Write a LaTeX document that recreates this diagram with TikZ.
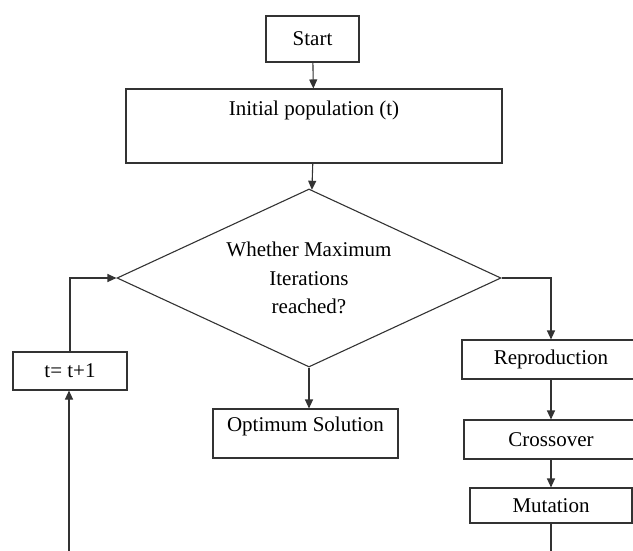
\documentclass[tikz,border=0pt]{standalone}
\usepackage{fontspec}
\setmainfont{Liberation Serif}
\usetikzlibrary{shapes.geometric, arrows.meta}

\definecolor{linegray}{gray}{0.2}

\tikzset{
  box/.style={draw=linegray, line width=1.1pt, rectangle, inner sep=0pt},
  decision/.style={draw=linegray, line width=1.1pt, diamond, aspect=2.16, inner sep=0pt, align=center},
  flow/.style={draw=linegray, line width=1.1pt, -{Triangle[length=9pt,width=8pt]}},
  plain/.style={draw=linegray, line width=1.1pt},
}

\begin{document}
\begin{tikzpicture}[x=1pt, y=-1pt, font=\fontsize{21}{28.5}\selectfont]
\useasboundingbox (0,0) rectangle (633,550);
\clip (0,0) rectangle (633,550);

% main column
\node[box, minimum width=93pt, minimum height=46pt] (start) at (312.5,39) {Start};
\node[box, minimum width=376pt, minimum height=74pt,
      label={[anchor=north, yshift=-9pt]north:Initial population (t)}] (init) at (314,126) {};
\node[decision, minimum width=384pt, minimum height=178pt] (decide) at (309,278)
  {Whether Maximum\\Iterations\\reached?};
\node[box, minimum width=185pt, minimum height=49pt,
      label={[anchor=north, yshift=-5pt]north:Optimum Solution}] (optimum) at (305.5,433.5) {};

% genetic operators
\node[box, minimum width=178pt, minimum height=39pt] (reprod) at (551,359.5) {Reproduction};
\node[box, minimum width=174pt, minimum height=39pt] (cross) at (551,439.5) {Crossover};
\node[box, minimum width=162pt, minimum height=35pt] (mutate) at (551,505.5) {Mutation};

% counter update
\node[box, minimum width=114pt, minimum height=38pt] (update) at (70,371) {t= t+1};

\coordinate (mutout) at (551,555);
\coordinate (loopin) at (69,555);

\draw[flow] (start) -- (init);
\draw[flow] (init) -- (decide);
\draw[flow] (decide.south) -- (decide.south |- optimum.north);
\draw[flow] (decide.east) -| (reprod.north);
\draw[flow] (reprod) -- (cross);
\draw[flow] (cross) -- (mutate);
\draw[plain] (mutate) -- (mutout);
\draw[flow] (loopin) -- (loopin |- update.south);
\draw[flow] (update.north) |- (decide.west);
\end{tikzpicture}
\end{document}
